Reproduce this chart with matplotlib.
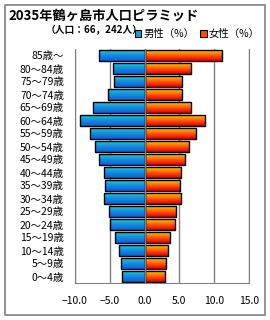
import numpy as np
import matplotlib
matplotlib.use('Agg')
import matplotlib.pyplot as plt
from matplotlib.patches import Rectangle, Patch
from matplotlib.colors import LinearSegmentedColormap

plt.rcParams['font.family'] = ['Noto Sans CJK JP', 'DejaVu Sans']

# age groups, bottom to top
ages = ['0～4歳', '5～9歳', '10～14歳', '15～19歳', '20～24歳', '25～29歳',
        '30～34歳', '35～39歳', '40～44歳', '45～49歳', '50～54歳', '55～59歳',
        '60～64歳', '65～69歳', '70～74歳', '75～79歳', '80～84歳', '85歳～']
male = [3.2, 3.4, 3.7, 4.2, 4.9, 5.1, 5.8, 5.7, 5.8, 6.5, 7.1, 7.8,
        9.3, 7.4, 5.2, 4.4, 4.5, 6.5]
female = [3.0, 3.1, 3.3, 3.7, 4.3, 4.5, 5.3, 5.1, 5.3, 5.8, 6.4, 7.4,
          8.7, 6.7, 5.4, 5.4, 6.6, 11.1]
xticks = [-10, -5, 0, 5, 10, 15]

male_cmap = LinearSegmentedColormap.from_list('m', ['#0a5fd8', '#1590e0', '#22d2d2'])
female_cmap = LinearSegmentedColormap.from_list('f', ['#d80000', '#ff3a00', '#ff8a00', '#ffe800'])

fig = plt.figure(figsize=(2.7, 3.2), dpi=100)
ax = fig.add_axes([75/270, 1-283/320, 174/270, 234/320])

y = np.arange(len(ages))
grad = np.linspace(0, 1, 64).reshape(-1, 1)


def gradient_bars(vals, cmap):
    bars = ax.barh(y, vals, height=0.92, facecolor='none', edgecolor='black',
                   linewidth=1.0, zorder=4)
    for b in bars:
        x0, x1 = sorted([b.get_x(), b.get_x() + b.get_width()])
        y0, y1 = b.get_y(), b.get_y() + b.get_height()
        im = ax.imshow(grad[::-1], extent=[x0, x1, y0, y1], aspect='auto',
                       cmap=cmap, origin='upper', zorder=3)
        im.set_clip_path(b)


gradient_bars([-v for v in male], male_cmap)
gradient_bars(female, female_cmap)

ax.set_xlim(-10, 15)
ax.set_ylim(-0.5, len(ages) - 0.5)
ax.set_xticks(xticks)
ax.set_xticklabels(['%.1f' % t if t >= 0 else '\u2212%.1f' % -t for t in xticks], fontsize=7.5)
ax.set_yticks(y)
ax.set_yticklabels(ages, fontsize=7.5)
ax.tick_params(length=0)
ax.tick_params(axis='y', pad=8)
ax.tick_params(axis='x', pad=9)
ax.grid(axis='x', color='#808080', linewidth=1, zorder=1)
ax.set_axisbelow(True)
ax.axvline(0, color='#808080', linewidth=1, zorder=5)
for s in ['left', 'bottom', 'right']:
    ax.spines[s].set_color('#808080')
ax.spines['top'].set_visible(False)

fig.text(8/270, 1-16/320, '2035年鶴ヶ島市人口ピラミッド', fontsize=9.5,
         fontweight='bold', va='center', ha='left')
fig.text(46/270, 1-30/320, '（人口：66，242人）', fontsize=7,
         fontweight='bold', va='center', ha='left')

handles = [Patch(facecolor='#1a9ae0', edgecolor='black', linewidth=0.8),
           Patch(facecolor='#ff4a00', edgecolor='black', linewidth=0.8)]
fig.legend(handles, ['男性（%）', '女性（%）'], loc='center right',
           bbox_to_anchor=(266/270, 1-34/320), ncol=2, frameon=False,
           fontsize=7.5, handlelength=0.6, handleheight=0.6,
           handletextpad=0.2, columnspacing=0.6, borderpad=0.1)

fig.patches.append(Rectangle((5/270, 5/320), 260/270, 310/320, transform=fig.transFigure,
                             fill=False, edgecolor='#808080', linewidth=1.2))

fig.savefig('out.png', dpi=100)
